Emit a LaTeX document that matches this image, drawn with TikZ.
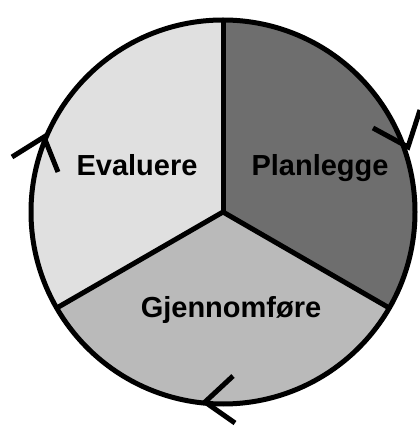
\documentclass[tikz,border=0pt]{standalone}
\usepackage{fontspec}
\setmainfont{Liberation Sans}
\begin{document}
\begin{tikzpicture}[x=1pt,y=1pt,
  sector/.style={line width=5pt, draw=black, line join=round},
  lbl/.style={anchor=base, font=\fontsize{29}{30}\selectfont\bfseries, inner sep=0pt},
  arrowv/.style={line width=5pt, line cap=butt, line join=miter}]
\useasboundingbox (0,0) rectangle (420,426);
\coordinate (C) at (223,214);
\def\R{192}
% sectors
\fill[black!57] (C) -- ++(90:\R) arc[start angle=90, end angle=-30, radius=\R] -- cycle;
\fill[black!27] (C) -- ++(-30:\R) arc[start angle=-30, end angle=-150, radius=\R] -- cycle;
\fill[black!12] (C) -- ++(-150:\R) arc[start angle=-150, end angle=-270, radius=\R] -- cycle;
\draw[sector] (C) -- ++(90:\R);
\draw[sector] (C) -- ++(-30:\R);
\draw[sector] (C) -- ++(-150:\R);
\draw[line width=5pt] (C) circle[radius=\R];
% arrowheads
\coordinate (rv) at (408,279);
\coordinate (ra) at (373,298);
\coordinate (rb) at (420,316);
\coordinate (lv) at (44,289);
\coordinate (la) at (12,269);
\coordinate (lb) at (58,254);
\coordinate (bv) at (205,24);
\coordinate (ba) at (233,50);
\coordinate (bb) at (235,3);
\draw[arrowv] (ra) -- (rv) -- (rb);
\draw[arrowv] (la) -- (lv) -- (lb);
\draw[arrowv] (ba) -- (bv) -- (bb);
% labels
\node[lbl] (ev) at (137,250) {Evaluere};
\node[lbl] (pl) at (320,250) {Planlegge};
\node[lbl] (gj) at (231,108) {Gjennomføre};
\end{tikzpicture}
\end{document}
